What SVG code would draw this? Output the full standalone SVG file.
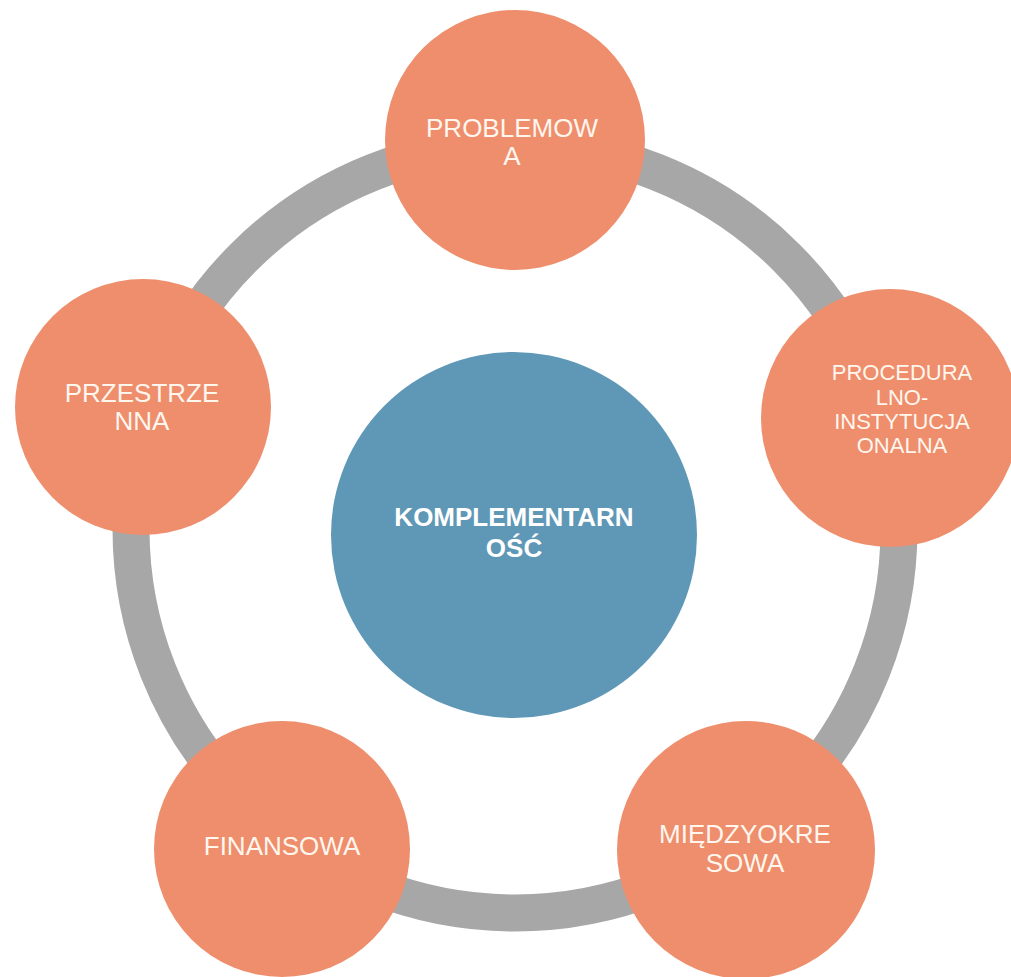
<svg xmlns="http://www.w3.org/2000/svg" width="1011" height="977" viewBox="0 0 1011 977">
<style>
.node{fill:#ee8e6c}
.center{fill:#5f98b6}
.lbl{font-family:"Liberation Sans",Arial,sans-serif;font-size:26px;fill:#fff6ee;text-anchor:middle}
.lbls{font-family:"Liberation Sans",Arial,sans-serif;font-size:22px;fill:#fff6ee;text-anchor:middle}
.clbl{font-family:"Liberation Sans",Arial,sans-serif;font-size:26px;font-weight:bold;fill:#ffffff;text-anchor:middle}
</style>
<rect x="0" y="0" width="1011" height="977" fill="#ffffff"/>
<g id="connectors">
<circle cx="515" cy="529" r="384" fill="none" stroke="#a7a7a7" stroke-width="37"/>
</g>
<g id="node-center">
<circle class="center" cx="514" cy="535" r="183"/>
<text class="clbl" x="514" y="526">KOMPLEMENTARN</text>
<text class="clbl" x="514" y="557">OŚĆ</text>
</g>
<g id="node-problemowa">
<circle class="node" cx="515" cy="140" r="130"/>
<text class="lbl" x="512" y="137">PROBLEMOW</text>
<text class="lbl" x="512" y="165">A</text>
</g>
<g id="node-procedura">
<circle class="node" cx="890" cy="418" r="129"/>
<text class="lbls" x="902" y="380">PROCEDURA</text>
<text class="lbls" x="902" y="405">LNO-</text>
<text class="lbls" x="902" y="429">INSTYTUCJA</text>
<text class="lbls" x="902" y="453">ONALNA</text>
</g>
<g id="node-miedzyokresowa">
<circle class="node" cx="746" cy="850" r="129"/>
<text class="lbl" x="745" y="843">MIĘDZYOKRE</text>
<text class="lbl" x="745" y="872">SOWA</text>
</g>
<g id="node-finansowa">
<circle class="node" cx="282" cy="849" r="128"/>
<text class="lbl" x="282" y="855">FINANSOWA</text>
</g>
<g id="node-przestrzenna">
<circle class="node" cx="143" cy="407" r="128"/>
<text class="lbl" x="142" y="402">PRZESTRZE</text>
<text class="lbl" x="142" y="430">NNA</text>
</g>
</svg>
